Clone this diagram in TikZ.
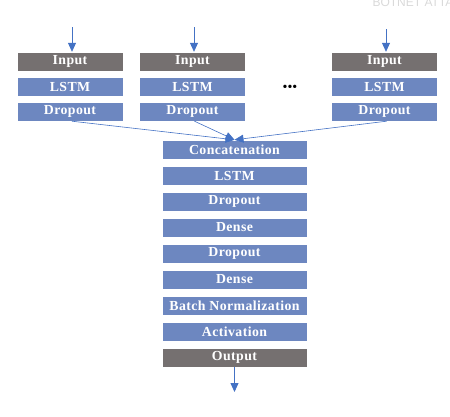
\documentclass[tikz,border=0pt]{standalone}
\usepackage{fontspec}
\setmainfont{Liberation Serif}
\newfontfamily\wmfont{Liberation Sans}
\newfontfamily\layerfont[LetterSpace=3]{Liberation Serif}
\usetikzlibrary{arrows.meta}
\definecolor{layerblue}{HTML}{6D87C0}
\definecolor{iogray}{HTML}{757070}
\definecolor{arrowblue}{HTML}{4472C4}
\tikzset{
  layer/.style={fill=layerblue, draw=white, line width=0.4pt, minimum height=19pt, inner sep=0pt,
     text=white, font=\layerfont\fontsize{13.8}{14}\selectfont\bfseries},
  toplayer/.style={layer, minimum width=106pt},
  midlayer/.style={layer, minimum width=145pt},
  io/.style={fill=iogray},
  conn/.style={draw=arrowblue, line width=0.8pt, -{Triangle[width=8pt,length=9pt]}},
  thin conn/.style={draw=arrowblue, line width=0.6pt, -{Triangle[width=8pt,length=9pt]}}
}
\begin{document}
\begin{tikzpicture}[x=1pt,y=-1pt]
\useasboundingbox (0,0) rectangle (450,416);
\node[anchor=base west, text=black!15, font=\wmfont\fontsize{12}{12}\selectfont] (wm) at (369,6) {BOTNET ATTAC};
% column 1
\node[toplayer,io] (in1) at (70,61.5) {Input};
\node[toplayer] (ls1) at (70,86.5) {LSTM};
\node[toplayer] (dr1) at (70,111.5) {Dropout};
% column 2
\node[toplayer,io] (in2) at (192.5,61.5) {Input};
\node[toplayer] (ls2) at (192.5,86.5) {LSTM};
\node[toplayer] (dr2) at (192.5,111.5) {Dropout};
% column 3
\node[toplayer,io] (in3) at (384.5,61.5) {Input};
\node[toplayer] (ls3) at (384.5,86.5) {LSTM};
\node[toplayer] (dr3) at (384.5,111.5) {Dropout};
\node[font=\fontsize{14}{14}\selectfont, inner sep=0pt] (dots) at (290,88) {•••};
% input arrows
\coordinate (s1) at (72,27);
\coordinate (s2) at (194,27);
\coordinate (s3) at (386,29);
\draw[conn] (s1) -- (s1 |- in1.north);
\draw[conn] (s2) -- (s2 |- in2.north);
\draw[conn] (s3) -- (s3 |- in3.north);
% middle column
\node[midlayer] (cat) at (234.5,149.5) {Concatenation};
\node[midlayer] (ls) at (234.5,175.5) {LSTM};
\node[midlayer] (d1) at (234.5,201.5) {Dropout};
\node[midlayer] (de1) at (234.5,227.5) {Dense};
\node[midlayer] (d2) at (234.5,253.5) {Dropout};
\node[midlayer] (de2) at (234.5,279.5) {Dense};
\node[midlayer] (bn) at (234.5,305.5) {Batch Normalization};
\node[midlayer] (act) at (234.5,331.5) {Activation};
\node[midlayer,io] (out) at (234.5,357.5) {Output};
% converging connectors
\draw[thin conn] ([xshift=2pt]dr1.south) -- (cat.north);
\draw[thin conn] ([xshift=2pt]dr2.south) -- (cat.north);
\draw[thin conn] ([xshift=2pt]dr3.south) -- (cat.north);
\coordinate (end) at (234.5,392);
\draw[conn] (out.south) -- (end);
\end{tikzpicture}
\end{document}
